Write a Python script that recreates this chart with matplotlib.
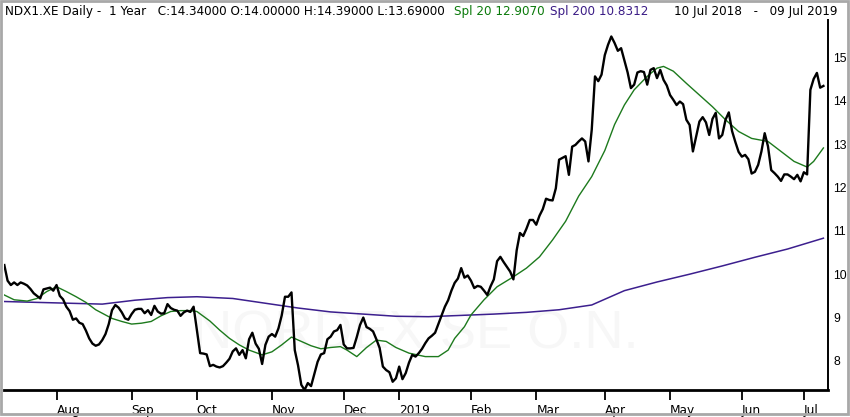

# Tageskurs NDX1.XE (1 Jahr) mit gleitenden Durchschnitten Spl 20 und Spl 200
# Output: out.png (850x417)

import numpy as np
import pandas as pd
import matplotlib
matplotlib.use("Agg")
import matplotlib.pyplot as plt
from matplotlib.patches import Rectangle

# === 1. Daten ===

# Handelstage (Xetra), 10 Jul 2018 - 09 Jul 2019
feiertage = ["2018-12-24", "2018-12-25", "2018-12-26", "2018-12-31", "2019-01-01",
             "2019-04-19", "2019-04-22", "2019-05-01", "2019-06-10"]

# Schlusskurse, je Handelstag
close = [
    10.21, 9.85, 9.75, 9.81, 9.75, 9.81, 9.78, 9.74, 9.66, 9.56,
    9.50, 9.44, 9.65, 9.67, 9.69, 9.62, 9.75, 9.50, 9.42, 9.25,
    9.15, 8.95, 8.98, 8.88, 8.85, 8.70, 8.52, 8.40, 8.35, 8.38,
    8.48, 8.62, 8.85, 9.17, 9.29, 9.23, 9.12, 8.98, 8.95, 9.08,
    9.18, 9.20, 9.20, 9.10, 9.17, 9.06, 9.27, 9.14, 9.09, 9.10,
    9.31, 9.22, 9.18, 9.16, 9.04, 9.12, 9.16, 9.13, 9.25, 8.72,
    8.18, 8.17, 8.15, 7.88, 7.91, 7.87, 7.85, 7.88, 7.96, 8.05,
    8.22, 8.29, 8.14, 8.25, 8.06, 8.50, 8.65, 8.40, 8.28, 7.93,
    8.37, 8.56, 8.62, 8.56, 8.75, 9.05, 9.48, 9.48, 9.58, 8.25,
    7.90, 7.45, 7.33, 7.49, 7.42, 7.70, 7.98, 8.15, 8.18, 8.50,
    8.56, 8.68, 8.71, 8.83, 8.38, 8.29, 8.29, 8.30, 8.55, 8.83,
    9.00, 8.78, 8.74, 8.68, 8.50, 8.30, 7.87, 7.79, 7.74, 7.52,
    7.60, 7.87, 7.58, 7.72, 7.96, 8.14, 8.10, 8.18, 8.28, 8.41,
    8.52, 8.58, 8.65, 8.85, 9.05, 9.25, 9.40, 9.62, 9.80, 9.90,
    10.14, 9.92, 9.97, 9.85, 9.68, 9.73, 9.71, 9.62, 9.52, 9.72,
    9.88, 10.30, 10.40, 10.28, 10.17, 10.06, 9.88, 10.55, 10.95, 10.88,
    11.05, 11.25, 11.25, 11.14, 11.35, 11.50, 11.74, 11.71, 11.70, 11.98,
    12.64, 12.68, 12.72, 12.29, 12.94, 12.98, 13.06, 13.13, 13.06, 12.60,
    13.33, 14.56, 14.45, 14.60, 15.05, 15.29, 15.48, 15.33, 15.15, 15.21,
    14.93, 14.65, 14.29, 14.37, 14.65, 14.68, 14.66, 14.37, 14.71, 14.75,
    14.52, 14.71, 14.48, 14.35, 14.13, 14.02, 13.90, 13.98, 13.92, 13.56,
    13.44, 12.83, 13.17, 13.52, 13.62, 13.50, 13.21, 13.58, 13.72, 13.13,
    13.21, 13.56, 13.73, 13.30, 13.05, 12.82, 12.71, 12.75, 12.65, 12.32,
    12.36, 12.52, 12.83, 13.25, 12.95, 12.40, 12.33, 12.25, 12.15, 12.30,
    12.30, 12.25, 12.19, 12.29, 12.14, 12.35, 12.30, 14.25, 14.50, 14.64,
    14.30, 14.34,
]

spl20_tag = [0, 3, 7, 10, 13, 16, 19, 22, 25, 28,
             33, 36, 39, 42, 45, 48, 51, 54, 57, 59,
             63, 66, 69, 72, 75, 79, 82, 85, 88, 91,
             94, 97, 100, 103, 105, 108, 111, 114, 117, 120,
             124, 129, 133, 136, 138, 141, 143, 147, 151, 156,
             160, 164, 168, 172, 176, 180, 184, 187, 190, 193,
             197, 200, 202, 205, 209, 213, 217, 221, 225, 229,
             234, 238, 242, 246, 248, 251]
spl20 = [9.52, 9.41, 9.38, 9.44, 9.60, 9.71, 9.60, 9.48, 9.35, 9.18,
         8.98, 8.91, 8.85, 8.87, 8.91, 9.04, 9.14, 9.16, 9.16, 9.14,
         8.92, 8.71, 8.52, 8.37, 8.25, 8.14, 8.21, 8.37, 8.55, 8.45,
         8.35, 8.28, 8.31, 8.33, 8.25, 8.10, 8.31, 8.48, 8.45, 8.31,
         8.18, 8.10, 8.10, 8.25, 8.52, 8.79, 9.06, 9.41, 9.71, 9.94,
         10.14, 10.40, 10.79, 11.22, 11.80, 12.25, 12.85, 13.45, 13.90, 14.25,
         14.56, 14.75, 14.79, 14.68, 14.40, 14.13, 13.86, 13.56, 13.29, 13.13,
         13.06, 12.83, 12.60, 12.47, 12.60, 12.91]

# Spl 200
spl200_tag = [0, 10, 20, 30, 40, 50, 59, 70, 80, 90, 100, 110, 120,
              130, 140, 150, 160, 170, 180, 190, 200, 210, 220, 230, 240, 251]
spl200 = [9.37, 9.35, 9.33, 9.31, 9.40, 9.46, 9.48, 9.44, 9.33, 9.22, 9.13, 9.08, 9.03,
          9.02, 9.05, 9.08, 9.12, 9.18, 9.29, 9.62, 9.82, 10.00, 10.19, 10.39, 10.58, 10.83]

y_ticks = [8, 9, 10, 11, 12, 13, 14, 15]

# === 2. Handelstage und Monatsticks ===

tage = pd.bdate_range("2018-07-10", "2019-07-09")
tage = tage[~tage.isin(pd.to_datetime(feiertage))]
idx = np.arange(len(tage))

monat = tage.to_period("M")
neu = np.r_[False, monat[1:] != monat[:-1]]
tick_pos = idx[neu]
tick_lab = ["2019" if tage[i].month == 1 else tage[i].strftime("%b") for i in tick_pos]

# === 3. Plot ===

fig = plt.figure(figsize=(8.5, 4.17), dpi=100)
ax = fig.add_axes([4 / 850, 27 / 417, 824 / 850, 370 / 417])

ax.text(0.5, 0.15, "NORDEX SE O.N.", transform=ax.transAxes, ha="center", va="center",
        fontsize=39, family="Liberation Sans", color="#f7f7f7", zorder=0)

ax.plot(spl200_tag, spl200, color="#3c1f8e", lw=1.1, zorder=2)
ax.plot(spl20_tag, spl20, color="#1d7a1d", lw=1.0, zorder=3)
ax.plot(idx, close, color="black", lw=1.7, zorder=4)

ax.set_xlim(-0.1, 252.4)
ax.set_ylim(7.33, 15.86)

for s in ["left", "top"]:
    ax.spines[s].set_visible(False)
ax.spines["bottom"].set_linewidth(2.0)
ax.spines["right"].set_linewidth(1.4)

ax.yaxis.tick_right()
ax.set_yticks(y_ticks)
ax.set_yticklabels([str(v) for v in y_ticks], family="Liberation Sans")
ax.tick_params(axis="y", length=0, pad=4, labelsize=8.8)

ax.set_xticks(tick_pos)
ax.set_xticklabels(tick_lab, ha="left")
ax.tick_params(axis="x", direction="out", length=7, width=1.3, pad=3, labelsize=8.7)

# Kopfzeile
fs = 8.65
ky = 1 - 12 / 417
fig.text(5 / 850, ky, "NDX1.XE Daily -  1 Year   C:14.34000 O:14.00000 H:14.39000 L:13.69000",
         fontsize=fs, va="center", ha="left")
fig.text(454 / 850, ky, "Spl 20 12.9070", fontsize=fs, color="#0b7a0b", va="center")
fig.text(550 / 850, ky, "Spl 200 10.8312", fontsize=fs, color="#3b1c86", va="center")
fig.text(838 / 850, ky, "10 Jul 2018   -   09 Jul 2019", fontsize=fs, va="center", ha="right")

# Rahmen
fig.patches.append(Rectangle((1 / 850, 3 / 417), 847 / 850, 413 / 417, transform=fig.transFigure,
                             fill=False, edgecolor="#a8a8a8", lw=2))

fig.savefig("out.png", dpi=100)
